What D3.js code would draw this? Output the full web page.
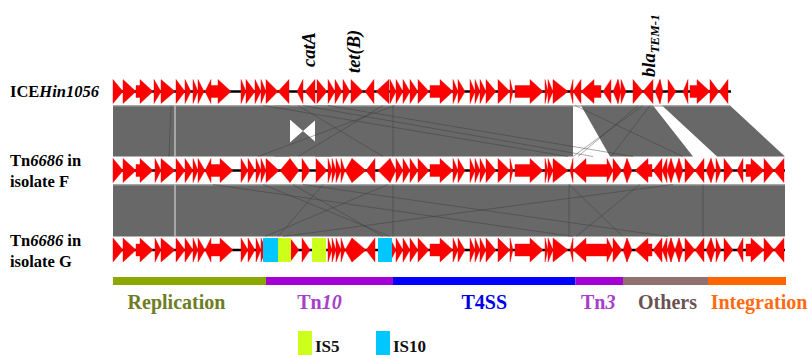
<!DOCTYPE html>
<html><head><meta charset="utf-8">
<script src="https://cdn.jsdelivr.net/npm/d3@7"></script>
<style>
body{margin:0;background:#fff}
svg{display:block}
</style>
</head><body>
<svg id="chart" width="810" height="359" font-family="'Liberation Serif', 'Times New Roman', Times, serif" font-weight="bold"></svg>
<script>
// ---------------- DATA (kb) ----------------
const trackNames = ["ICEHin1056", "Tn6686 in isolate F", "Tn6686 in isolate G"];
const trackLengths = [61.8, 67.2, 67.2];

// [start, end, strand]
const genesICE = [[0,1,1],[1,2.3,1],[2.3,4,1],[4.1,4.8,1],[4.8,6.2,1],[6.3,7.2,1],[7.2,7.8,1],[8,8.5,1],[8.5,9.1,1],[9.2,9.8,-1],
 [9.8,11.8,1],[12.8,13.3,1],[13.3,14.2,1],[14.2,14.8,1],[14.8,15.3,1],[15.3,16.5,1],[16.5,17.6,-1],[18.4,19,-1],[19.2,20.2,-1],
 [20.4,21.4,1],[21.5,22.2,1],[22.2,22.9,1],[23,23.7,1],[23.8,25,1],[25.2,26.1,-1],[26.3,27.6,-1],[27.7,28.3,1],[28.3,29,1],
 [29,29.7,1],[29.7,30.5,1],[30.5,31.6,1],[31.7,34,1],[34,34.5,1],[34.5,35.2,1],[35.7,36.2,1],[36.2,36.7,1],[36.7,37.3,1],
 [37.3,38.3,1],[38.5,39.7,1],[39.7,40,1],[40.2,43,1],[43.2,43.5,1],[43.5,44,1],[44,45.5,1],[45.7,46,-1],[46,46.8,-1],
 [46.8,48.8,-1],[49,49.8,-1],[50,50.5,-1],[50.5,50.8,1],[50.8,51.3,1],[52,53,1],[53,54,-1],[54.2,54.7,-1],[54.7,55,1],
 [55.5,56.3,1],[57,57.5,-1],[57.7,59.7,1],[59.7,60.6,1],[60.6,61.5,-1]];

const genesTn6686 = [[0,1,1],[1,2.3,1],[2.3,4,1],[4.2,4.8,1],[4.8,6.2,1],[6.3,7.2,1],[7.2,8,1],[8,8.5,1],[8.5,9.2,1],[9.2,9.8,-1],
 [9.8,12,1],[12.8,13.5,1],[13.5,14.2,1],[14.3,14.8,1],[14.8,15.3,1],[15.3,16.6,1],[16.7,17.7,-1],[17.7,18.6,1],[18.9,19.7,1],
 [20.3,21.4,1],[21.5,21.9,1],[21.9,22.3,1],[22.3,22.8,1],[22.8,23.2,1],[23.2,23.9,-1],[23.9,25.3,1],[25.3,26.2,-1],[26.5,27.7,-1],
 [27.7,28.3,1],[28.3,29,1],[29,29.7,1],[29.7,30.5,1],[30.5,31.6,1],[31.7,34,1],[34,34.5,1],[34.5,35.2,1],[35.7,36.2,1],
 [36.2,36.7,1],[36.7,37.3,1],[37.3,38.3,1],[38.5,39.7,1],[39.7,40,1],[40.2,43,1],[43.2,43.5,1],[43.5,44,1],[44,45.5,1],
 [45.7,46,-1],[46,49.4,-1],[49.4,50,1],[50,50.9,1],[51,51.4,-1],[51.4,51.9,1],[52.2,53.9,-1],[54,54.9,-1],[54.9,55.4,-1],
 [55.4,55.8,-1],[55.8,56.2,1],[56.2,56.6,-1],[56.6,57,1],[57.2,58.2,1],[58.2,59.1,-1],[59.3,59.8,-1],[59.8,60.2,1],[60.3,60.8,1],
 [61.1,62,1],[62.4,63,-1],[63.3,65.1,1],[65.1,66.1,1],[66.1,67.1,-1]];

// insertion sequences in isolate G: [start, end, type]
const isElements = [[15,16.5,"IS10"],[16.5,17.8,"IS5"],[19.9,21.3,"IS5"],[26.5,27.9,"IS10"]];
const isTypes = ["IS5","IS10"];
const isColors = ["#ccff1a","#00c8ff"];

// BLAST similarity blocks [topStart, topEnd, bottomStart, bottomEnd]
const band1Blocks = [[0,17.7,0,17.7],[16.1,21.9,21.9,16.1],[20.2,46,20.2,46],[46.8,54,49.7,58],[54.9,61.7,60.4,67.2]];
const band2Blocks = [[0,67.2,0,67.2]];
// thin similarity lines [top, bottom]
const band1Links = [[28,28],[5.8,5.6],[28.2,14.5],[27,18.5],[18.5,27],[21.5,52],[19,48],[53,46],[53.7,49.8],[46.2,57],[52.5,46.5],[15,45.5]];
const band2Links = [[28,28],[45.6,45.6],[59,59],[15,27.7],[27.5,15.2],[18,27],[21,16.5],[45.6,51],[52.7,46.3],[19,55.5],[56,17],[10,46]];
const lightLinks = [6.2];

// gene labels
const geneLabels = ["catA","tet(B)","bla"];
const geneLabelPos = [20.2, 24.7, 54.2];

// functional modules
const modules = ["Replication","Tn10","T4SS","Tn3","Others","Integration"];
const moduleStart = [0, 15.3, 28, 46.25, 51, 59.5];
const moduleEnd = [15.3, 28, 46.25, 51, 59.5, 67.3];
const moduleColors = ["#8aa800","#a400d4","#0000ff","#a400d4","#937070","#ff6600"];
const moduleTextColors = ["#6e7d22","#a640c8","#0000e6","#a640c8","#6b5252","#ff6a12"];

// ---------------- DRAW ----------------
const svg = d3.select("#chart");
const x = d3.scaleLinear().domain([0, 67.2]).range([113, 785]);
const trackY = [91.5, 170.5, 250];
const H = 12, BODY = 6, HEAD = 13;

function bandPoly(b, y0, y1){
  return [[x(b[0]),y0],[x(b[1]),y0],[x(b[3]),y1],[x(b[2]),y1]];
}
function drawBand(blocks, links, yTop, yBot){
  const g = svg.append("g");
  g.selectAll("polygon").data(blocks).join("polygon")
    .attr("points", d => bandPoly(d, yTop, yBot).join(" "))
    .attr("fill","#686868");
  g.append("line").attr("x1",x(0)).attr("x2",x(d3.max(blocks,b=>Math.max(b[1],b[0]))))
    .attr("y1",yTop+0.5).attr("y2",yTop+0.5).attr("stroke","#9a9a9a").attr("stroke-width",1);
  g.selectAll("line.lk").data(links).join("line").attr("class","lk")
    .attr("x1",d=>x(d[0])).attr("x2",d=>x(d[1])).attr("y1",yTop).attr("y2",yBot)
    .attr("stroke","#3a3a3a").attr("stroke-opacity",0.55).attr("stroke-width",0.8);
  g.selectAll("line.lt").data(lightLinks).join("line").attr("class","lt")
    .attr("x1",d=>x(d)).attr("x2",d=>x(d)).attr("y1",yTop).attr("y2",yBot)
    .attr("stroke","#d0d0d0").attr("stroke-width",1.2);
}
drawBand(band1Blocks, band1Links, trackY[0]+14, trackY[1]-14);
drawBand(band2Blocks, band2Links, trackY[1]+14, trackY[2]-13.5);

function genePath(d, cy){
  let a = x(d[0]), b = x(d[1]);
  const len = b - a;
  if (d[2] < 0) { [a,b] = [b,a]; }
  const s = Math.sign(b - a);
  if (len <= 16) {
    return `M${a},${cy-H}L${b},${cy}L${a},${cy+H}Z`;
  }
  const h = b - s*HEAD;
  return `M${a},${cy-BODY}L${h},${cy-BODY}L${h},${cy-H}L${b},${cy}L${h},${cy+H}L${h},${cy+BODY}L${a},${cy+BODY}Z`;
}
const trackGenes = [genesICE, genesTn6686, genesTn6686];
trackGenes.forEach((genes, i) => {
  const cy = trackY[i];
  const g = svg.append("g");
  g.append("line").attr("x1",x(0)).attr("x2",x(trackLengths[i])).attr("y1",cy).attr("y2",cy)
    .attr("stroke","#000").attr("stroke-width",2.6);
  g.selectAll("path").data(genes).join("path")
    .attr("d", d => genePath(d, cy)).attr("fill","#ff0000")
    .attr("stroke","#e80000").attr("stroke-width",0.4);
});
// IS elements on isolate G
const isColor = d3.scaleOrdinal().domain(isTypes).range(isColors);
svg.append("g").selectAll("rect").data(isElements).join("rect")
  .attr("x", d => x(d[0])).attr("width", d => x(d[1]) - x(d[0]))
  .attr("y", trackY[2]-H).attr("height", 2*H).attr("fill", d => isColor(d[2]));

// track labels
const lab = svg.append("g").attr("font-size", 16.5);
const t1 = lab.append("text").attr("x",10).attr("y",97);
t1.append("tspan").text("ICE"); t1.append("tspan").attr("font-style","italic").text("Hin1056");
[[166,187,"F"],[246,267,"G"]].forEach(r => {
  const a = lab.append("text").attr("x",10).attr("y",r[0]);
  a.append("tspan").text("Tn"); a.append("tspan").attr("font-style","italic").text("6686"); a.append("tspan").text(" in");
  lab.append("text").attr("x",10).attr("y",r[1]).text("isolate " + r[2]);
});

// gene labels (rotated)
const glY = [67, 73, 77];
geneLabels.forEach((name, i) => {
  const t = svg.append("text").attr("font-size",18.5).attr("font-style","italic")
    .attr("transform", `translate(${x(geneLabelPos[i])},${glY[i]}) rotate(-90)`);
  t.append("tspan").text(name);
  if (name === "bla") t.append("tspan").attr("font-size",13).attr("dy",4).text("TEM-1");
});

// module bar
const barY = 277;
svg.append("g").selectAll("rect").data(modules).join("rect")
  .attr("x",(d,i)=>x(moduleStart[i])).attr("width",(d,i)=>x(moduleEnd[i])-x(moduleStart[i]))
  .attr("y",barY).attr("height",8).attr("fill",(d,i)=>moduleColors[i]);
const labelShift = [-13,-10,0,-1,2,12];
const mg = svg.append("g").attr("font-size",20).attr("text-anchor","middle");
modules.forEach((m,i) => {
  const cx = (x(moduleStart[i]) + x(moduleEnd[i]))/2 + labelShift[i];
  const t = mg.append("text").attr("x",cx).attr("y",309).attr("fill",moduleTextColors[i]);
  const mm = m.match(/^(Tn)(\d+)$/);
  if (mm) { t.append("tspan").text(mm[1]); t.append("tspan").attr("font-style","italic").text(mm[2]); }
  else t.text(m);
});

// legend
const lg = svg.append("g").attr("font-size",17);
const legX = [298, 376];
isTypes.forEach((k,i) => {
  lg.append("rect").attr("x",legX[i]).attr("y",331).attr("width",14).attr("height",24).attr("fill",isColors[i]);
  lg.append("text").attr("x",legX[i]+17).attr("y",352).attr("fill","#111").text(k);
});
</script>
</body></html>
